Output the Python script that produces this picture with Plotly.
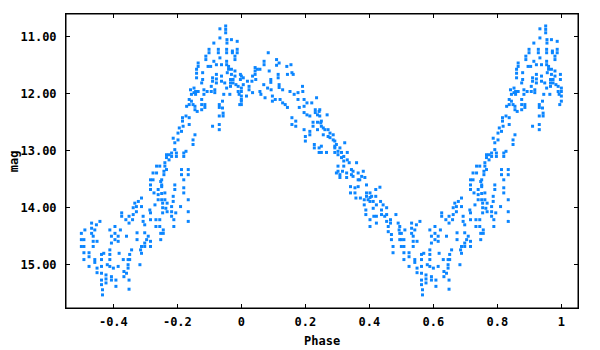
import plotly.graph_objects as go

# Observed (phase, magnitude) pairs, phase in [0, 1]
phase = [
    0.000, 0.000, 0.000, 0.006, 0.006, 0.016, 0.019, 0.024, 0.024, 0.033,
    0.035, 0.035, 0.043, 0.043, 0.043, 0.045, 0.050, 0.058, 0.058, 0.061,
    0.071, 0.071, 0.070, 0.074, 0.084, 0.082, 0.087, 0.092, 0.092, 0.093,
    0.097, 0.097, 0.106, 0.110, 0.110, 0.115, 0.115, 0.118, 0.118, 0.118,
    0.121, 0.129, 0.129, 0.137, 0.142, 0.144, 0.144, 0.152, 0.155, 0.158,
    0.162, 0.158, 0.158, 0.165, 0.170, 0.170, 0.177, 0.177, 0.181, 0.191,
    0.192, 0.196, 0.196, 0.196, 0.196, 0.200, 0.200, 0.205, 0.205, 0.214,
    0.214, 0.214, 0.220, 0.224, 0.224, 0.228, 0.228, 0.231, 0.231, 0.235,
    0.238, 0.238, 0.238, 0.243, 0.243, 0.243, 0.248,
    0.245, 0.245, 0.250, 0.250, 0.256, 0.256, 0.250, 0.250, 0.261, 0.268,
    0.266, 0.271, 0.271, 0.277, 0.277, 0.287, 0.287, 0.292, 0.292, 0.292,
    0.292, 0.297, 0.302, 0.302, 0.302, 0.302, 0.297, 0.308, 0.313, 0.313,
    0.308, 0.308, 0.316, 0.323, 0.320, 0.320, 0.320, 0.329, 0.329, 0.331,
    0.331, 0.337, 0.344, 0.344, 0.341, 0.341, 0.349, 0.349, 0.355, 0.355,
    0.360, 0.358, 0.365, 0.365, 0.365, 0.370, 0.372, 0.376, 0.381, 0.386,
    0.384, 0.384, 0.391, 0.391, 0.391, 0.389, 0.389, 0.396, 0.402, 0.402,
    0.402, 0.402, 0.402, 0.407, 0.412, 0.412, 0.414, 0.420, 0.420, 0.422,
    0.422, 0.422, 0.433, 0.435, 0.438, 0.438, 0.443, 0.448, 0.454, 0.454,
    0.454, 0.459, 0.459, 0.466, 0.466, 0.469, 0.469, 0.474, 0.474, 0.483,
    0.490, 0.493, 0.495, 0.495, 0.495,
    0.500, 0.500, 0.500, 0.508, 0.508, 0.508, 0.508, 0.511, 0.524, 0.524,
    0.524, 0.532, 0.532, 0.532, 0.537, 0.537, 0.537, 0.542, 0.542, 0.542,
    0.547, 0.549, 0.549, 0.549, 0.558, 0.563, 0.563, 0.563, 0.563, 0.563,
    0.563, 0.566, 0.566, 0.570, 0.577, 0.577, 0.577, 0.581, 0.589, 0.589,
    0.589, 0.589, 0.589, 0.594, 0.594, 0.594, 0.594, 0.600, 0.605, 0.605,
    0.605, 0.608, 0.608, 0.615, 0.615, 0.615, 0.618, 0.622, 0.626, 0.626,
    0.631, 0.633, 0.633, 0.639, 0.641, 0.641, 0.646, 0.646, 0.646, 0.649,
    0.649, 0.651, 0.651, 0.649, 0.649, 0.657, 0.660, 0.662, 0.662, 0.667,
    0.672, 0.672, 0.674, 0.674, 0.678, 0.683, 0.685, 0.688, 0.688, 0.688,
    0.688, 0.693, 0.693, 0.698, 0.698, 0.698, 0.698, 0.704, 0.709, 0.714,
    0.716, 0.716, 0.716, 0.716, 0.716, 0.716, 0.716, 0.724, 0.724, 0.727,
    0.730, 0.733, 0.733, 0.735, 0.735, 0.740, 0.740, 0.740, 0.745, 0.748,
    0.748, 0.748,
    0.745, 0.745, 0.756, 0.756, 0.751, 0.751, 0.751, 0.754, 0.754, 0.754,
    0.751, 0.751, 0.758, 0.758, 0.761, 0.761, 0.761, 0.761, 0.764, 0.766,
    0.766, 0.766, 0.768, 0.768, 0.774, 0.774, 0.782, 0.782, 0.782, 0.782,
    0.782, 0.787, 0.787, 0.787, 0.789, 0.789, 0.792, 0.792, 0.792, 0.792,
    0.795, 0.797, 0.797, 0.802, 0.802, 0.806, 0.810, 0.813, 0.813, 0.813,
    0.816, 0.816, 0.818, 0.820, 0.820, 0.820, 0.820, 0.820, 0.827, 0.827,
    0.829, 0.834, 0.837, 0.837, 0.834, 0.834, 0.834, 0.834, 0.837, 0.837,
    0.841, 0.844, 0.844, 0.849, 0.849, 0.849, 0.852, 0.852, 0.855, 0.855,
    0.855, 0.857, 0.857, 0.860, 0.860, 0.860, 0.862, 0.865, 0.865, 0.865,
    0.876, 0.876, 0.876, 0.876, 0.879, 0.879, 0.883, 0.883, 0.886, 0.886,
    0.889, 0.889, 0.893, 0.896, 0.899, 0.899, 0.904, 0.906, 0.906, 0.910,
    0.910, 0.910, 0.914, 0.914, 0.917, 0.917, 0.922, 0.922, 0.922, 0.922,
    0.928, 0.928, 0.931, 0.931, 0.931, 0.931, 0.931, 0.933, 0.933, 0.933,
    0.938, 0.938, 0.938, 0.941, 0.941, 0.943, 0.943, 0.945, 0.948, 0.951,
    0.951, 0.951, 0.954, 0.954, 0.954, 0.954, 0.954, 0.955, 0.955, 0.956,
    0.960, 0.960, 0.964, 0.966, 0.966, 0.966, 0.969, 0.969, 0.969, 0.972,
    0.972, 0.974, 0.974, 0.980, 0.980, 0.980, 0.980, 0.983, 0.987, 0.987,
    0.987, 0.990, 0.990, 0.993, 0.995, 0.997, 0.997, 1.000, 1.000, 1.000,
    1.000,
]

mag = [
    11.69, 12.10, 12.19, 11.72, 11.84, 12.04, 11.78, 11.87, 11.93, 11.78,
    11.69, 11.98, 11.54, 11.60, 11.66, 11.75, 11.57, 11.57, 11.96, 12.01,
    11.43, 11.49, 11.84, 12.07, 11.28, 11.90, 11.60, 11.75, 11.80, 11.93,
    12.04, 12.13, 12.10, 11.40, 11.50, 11.66, 11.72, 11.46, 11.84, 11.89,
    12.10, 11.93, 12.16, 12.19, 11.52, 11.66, 12.24, 11.96, 11.49, 11.63,
    11.66, 12.42, 12.54, 12.01, 12.48, 12.57, 11.98, 12.10, 12.24, 11.87,
    11.96, 12.10, 12.22, 12.33, 12.63, 12.75, 12.83, 12.16, 12.37, 12.39,
    12.66, 12.72, 12.16, 12.50, 12.57, 12.89, 12.95, 12.28, 12.33, 12.07,
    12.37, 12.50, 12.63, 12.31, 12.95, 13.03, 12.51,
    12.28, 12.39, 12.48, 12.57, 12.60, 12.72, 12.92, 13.03, 12.63, 12.37,
    13.03, 12.63, 12.75, 12.69, 12.77, 12.72, 12.81, 12.83, 12.92, 12.95,
    13.03, 12.89, 13.01, 13.07, 13.27, 13.36, 13.39, 12.95, 13.03, 13.12,
    13.42, 13.47, 13.36, 12.86, 13.10, 13.18, 13.27, 13.39, 13.47, 13.03,
    13.16, 13.21, 13.33, 13.42, 13.63, 13.74, 13.36, 13.45, 13.65, 13.74,
    13.21, 13.83, 13.39, 13.51, 13.63, 13.51, 13.83, 13.45, 13.36, 13.47,
    13.86, 13.95, 13.60, 13.74, 13.80, 14.04, 14.12, 13.86, 13.74, 13.82,
    13.89, 14.21, 14.33, 13.80, 13.89, 14.01, 14.15, 13.68, 13.80, 13.95,
    14.15, 14.27, 13.64, 13.89, 14.04, 14.12, 13.95, 14.15, 14.00, 14.12,
    14.24, 14.33, 14.42, 14.21, 14.27, 14.47, 14.56, 14.68, 14.79, 14.12,
    14.27, 14.39, 14.33, 14.45, 14.56,
    14.45, 14.56, 14.68, 14.56, 14.68, 14.79, 14.91, 14.39, 14.79, 14.86,
    15.03, 14.27, 14.36, 14.45, 14.50, 14.59, 14.68, 14.39, 14.91, 14.96,
    14.30, 14.59, 15.06, 15.14, 14.24, 14.82, 14.91, 15.03, 15.15, 15.27,
    15.35, 15.44, 15.53, 14.80, 15.18, 15.25, 15.32, 15.00, 14.39, 14.74,
    14.82, 14.91, 15.03, 14.50, 14.62, 15.21, 15.27, 15.06, 14.33, 14.45,
    14.56, 15.27, 15.38, 14.50, 14.59, 15.03, 14.80, 14.39, 14.09, 14.15,
    14.91, 15.12, 15.21, 14.21, 14.50, 15.15, 14.91, 15.00, 15.06, 14.15,
    14.27, 14.82, 14.91, 15.27, 15.43, 14.74, 14.21, 14.00, 14.12, 13.92,
    13.98, 14.07, 14.44, 14.56, 13.89, 15.00, 14.74, 13.83, 13.98, 14.68,
    14.80, 14.15, 14.24, 14.62, 14.68, 14.30, 14.44, 14.56, 14.50, 14.04,
    14.09, 14.21, 14.59, 14.68, 13.51, 13.60, 13.68, 13.39, 13.51, 13.74,
    13.95, 14.21, 14.33, 13.27, 13.39, 13.68, 13.77, 13.86, 13.27, 13.54,
    14.45, 14.56,
    14.21, 14.33, 14.39, 14.45, 13.63, 13.75, 13.86, 13.92, 14.00, 14.09,
    13.51, 13.60, 13.36, 13.42, 13.21, 13.27, 13.74, 13.86, 14.01, 13.07,
    13.12, 13.33, 13.92, 14.07, 13.07, 13.16, 13.04, 13.10, 13.98, 14.07,
    14.15, 12.78, 13.80, 13.89, 14.21, 14.33, 12.86, 12.98, 13.60, 13.68,
    14.09, 13.04, 13.10, 12.69, 12.81, 12.60, 13.98, 12.66, 13.33, 13.42,
    12.42, 12.48, 12.57, 13.04, 13.10, 13.51, 13.65, 13.74, 12.39, 13.01,
    12.22, 13.86, 12.42, 12.54, 13.33, 13.42, 14.07, 14.24, 12.10, 12.19,
    11.93, 12.01, 12.13, 12.81, 12.89, 12.19, 11.90, 11.98, 12.72, 12.22,
    12.28, 11.96, 12.01, 11.57, 11.64, 11.72, 12.31, 11.46, 11.52, 11.96,
    11.81, 12.10, 12.19, 12.28, 11.63, 11.75, 11.93, 12.01, 12.19, 12.24,
    11.34, 11.40, 11.96, 11.52, 11.22, 11.28, 11.52, 11.87, 11.96, 11.72,
    11.78, 12.57, 11.11, 11.43, 11.93, 11.98, 11.66, 11.74, 11.81, 11.49,
    11.22, 11.28, 12.19, 12.24, 12.39, 12.54, 12.63, 11.37, 10.86, 11.02,
    11.69, 11.78, 11.49, 12.13, 12.25, 12.34, 12.39, 12.01, 11.81, 10.81,
    10.87, 10.93, 11.43, 11.49, 11.22, 11.28, 11.90, 11.05, 11.11, 11.63,
    11.52, 11.57, 12.01, 11.75, 11.81, 11.87, 11.05, 11.57, 11.66, 11.25,
    11.28, 11.75, 11.81, 11.34, 11.40, 11.60, 11.69, 11.84, 11.08, 11.22,
    11.28, 11.87, 11.96, 12.01, 12.19, 11.66, 11.75, 11.90, 11.96, 12.04,
    12.13,
]

x_ticks = [-0.4, -0.2, 0, 0.2, 0.4, 0.6, 0.8, 1]
x_labels = ["-0.4", "-0.2", "0", "0.2", "0.4", "0.6", "0.8", "1"]
y_ticks = [11, 12, 13, 14, 15]
y_labels = ["11.00", "12.00", "13.00", "14.00", "15.00"]
x_title = "Phase"
y_title = "mag"

# Show phases 0.5..1 a second time at phase-1 (curve plotted over -0.5..1)
xs = list(phase) + [p - 1 for p in phase if p >= 0.5]
ys = list(mag) + [m for p, m in zip(phase, mag) if p >= 0.5]

tickfont = dict(family="DejaVu Sans Mono", size=12, color="black", weight="bold")

fig = go.Figure()
fig.add_trace(go.Scatter(
    x=xs, y=ys, mode="markers",
    marker=dict(symbol="square", size=3, color="#0c86ff", line=dict(width=0)),
    hoverinfo="skip", showlegend=False,
))

axis_common = dict(
    showgrid=False, zeroline=False, showline=True, linecolor="black",
    linewidth=1, mirror="allticks", ticks="inside", ticklen=4,
    tickcolor="black", tickwidth=1, automargin=False,
    tickfont=tickfont,
)

fig.update_layout(
    width=600, height=350,
    # page body adds an 8px offset; margins compensate for it
    margin=dict(l=58, r=30, t=6, b=50, autoexpand=False),
    paper_bgcolor="white", plot_bgcolor="white",
    font=dict(family="DejaVu Sans Mono", size=12, color="black"),
    xaxis=dict(
        range=[-0.548, 1.052], tickvals=x_ticks, ticktext=x_labels,
        ticklabelstandoff=3, **axis_common,
    ),
    yaxis=dict(
        range=[15.76, 10.6], tickvals=y_ticks, ticktext=y_labels,
        ticklabelstandoff=6, **axis_common,
    ),
    shapes=[dict(type="rect", xref="paper", yref="paper", x0=0, x1=1, y0=0, y1=1,
                 line=dict(color="black", width=1), fillcolor="rgba(0,0,0,0)",
                 layer="above")],
    annotations=[
        dict(text=x_title, xref="paper", yref="paper", x=0.5, y=-0.112,
             xanchor="center", yanchor="middle", showarrow=False, font=tickfont),
        dict(text=y_title, xref="paper", yref="paper", x=-0.101, y=0.5,
             xanchor="center", yanchor="middle", textangle=-90,
             showarrow=False, font=tickfont),
    ],
)

fig.write_html("out.html")
